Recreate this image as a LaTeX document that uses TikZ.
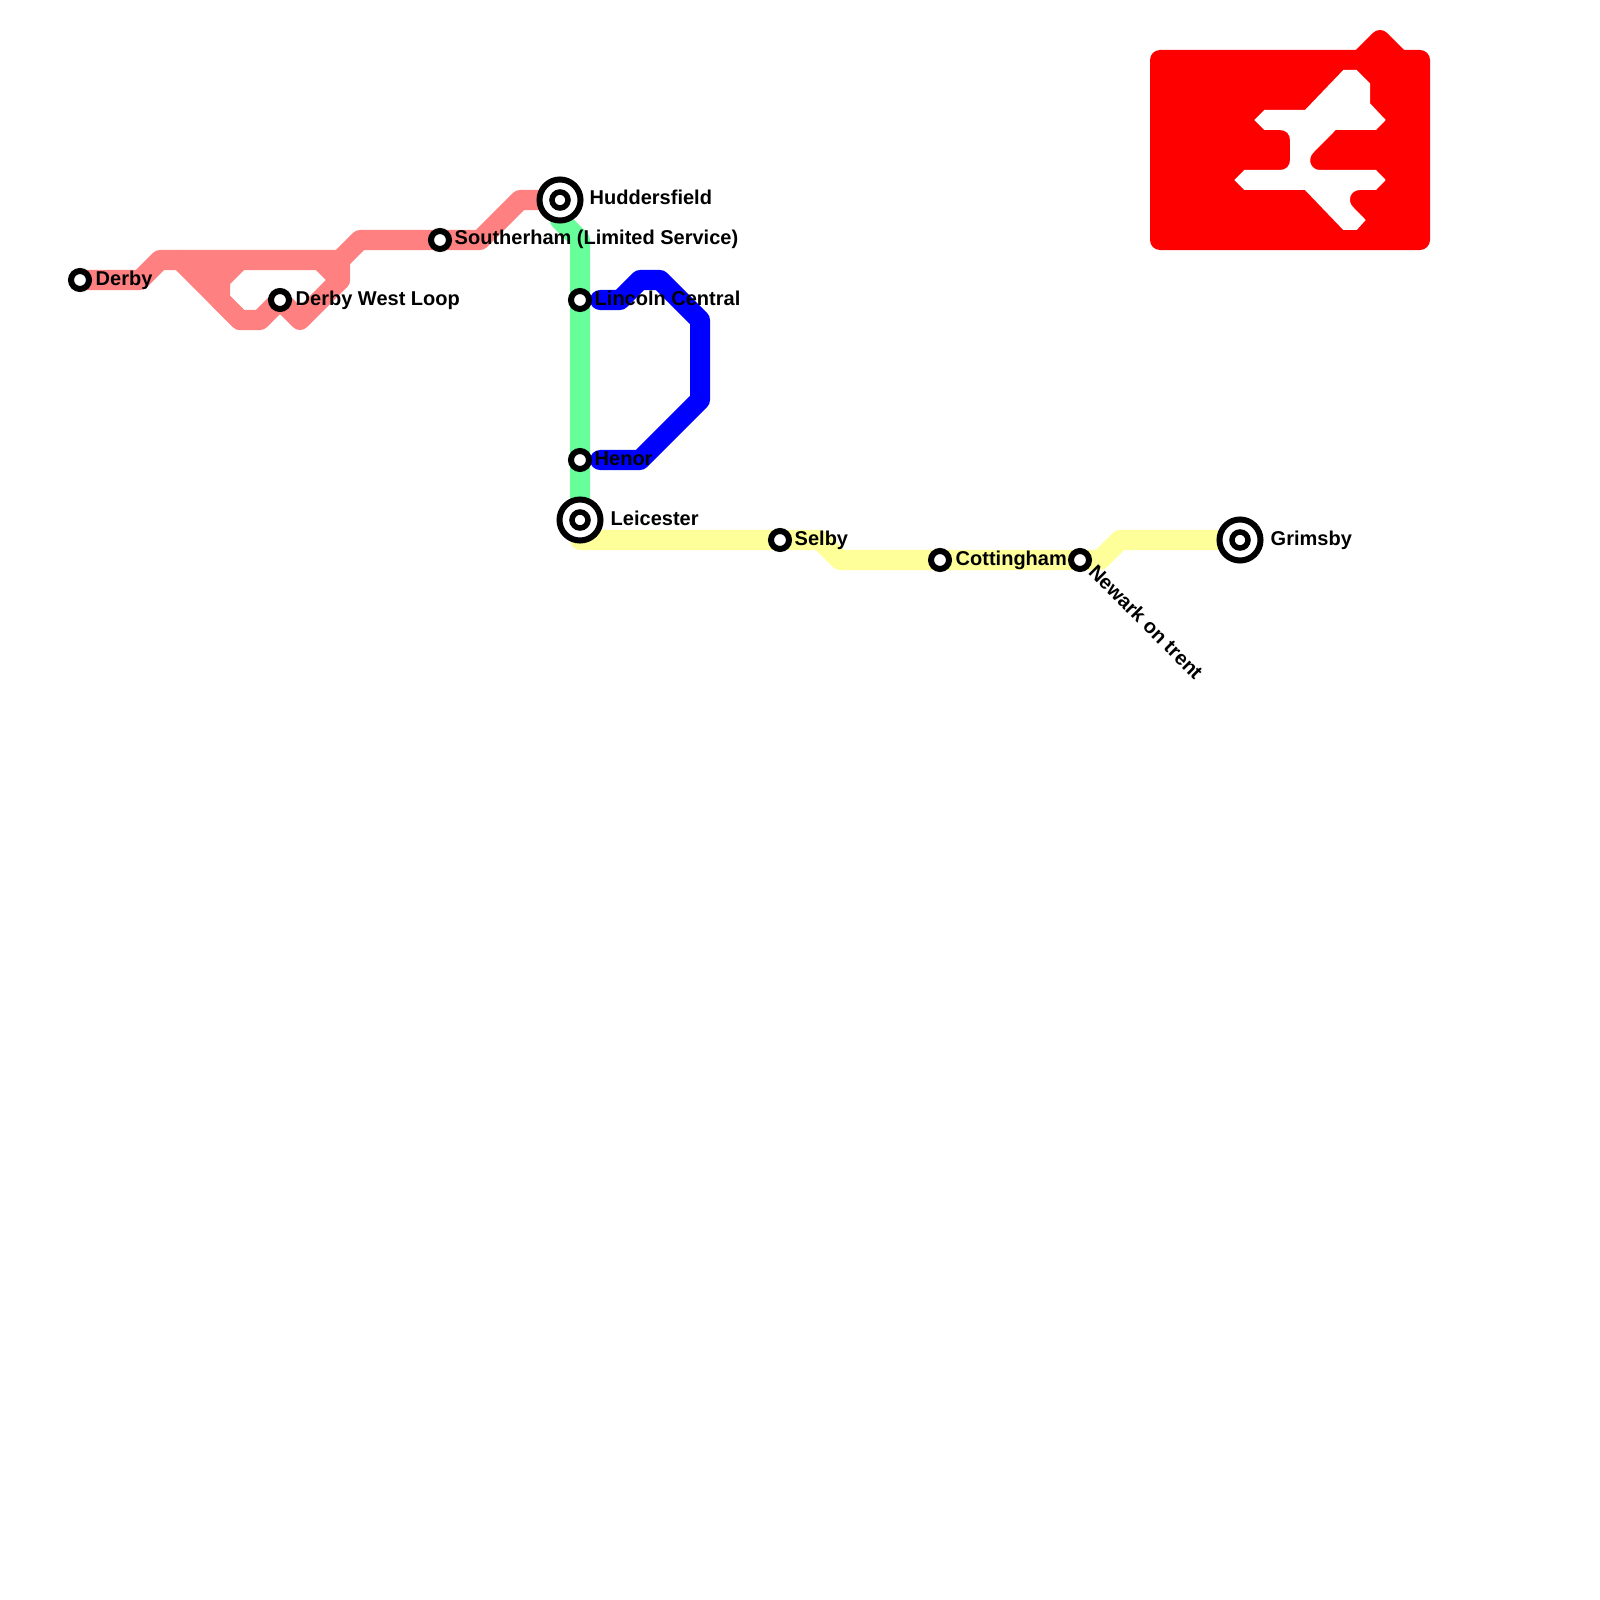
\documentclass[tikz,border=0pt]{standalone}
\usepackage{fontspec}
\setmainfont{Liberation Sans}
\usepackage{tikz}
\usetikzlibrary{backgrounds}
\definecolor{derbypink}{HTML}{FF8080}
\definecolor{limegreen}{HTML}{66FF99}
\definecolor{palelemon}{HTML}{FFFF99}
\begin{document}
\begin{tikzpicture}[
  x=0.01cm,y=-0.01cm,
  stop/.style={draw,circle,fill=white,line width=0.06cm,minimum size=0.18cm,inner sep=0pt},
  hub/.style={draw,circle,fill=white,line width=0.06cm,minimum size=0.41cm,inner sep=0pt},
  hubeye/.style={draw,circle,fill=white,line width=0.055cm,minimum size=0.16cm,inner sep=0pt},
  stoplabel/.style={anchor=base west,inner sep=0pt,font=\bfseries\fontsize{5.69}{7}\selectfont},
  route/.style={line width=0.2cm,line join=round,line cap=round}
]
\useasboundingbox (0,0) rectangle (1600,1600);
\node[stop] (derby) at (80,280) {};
\node[stop] (westloop) at (280,300) {};
\node[stop] (southerham) at (440,240) {};
\node[hub] (huddersfield) at (560,200) {};
\node[hubeye] (huddersfieldeye) at (560,200) {};
\node[stop] (lincoln) at (580,300) {};
\node[stop] (henor) at (580,460) {};
\node[hub] (leicester) at (580,520) {};
\node[hubeye] (leicestereye) at (580,520) {};
\node[stop] (selby) at (780,540) {};
\node[stop] (cottingham) at (940,560) {};
\node[stop] (newark) at (1080,560) {};
\node[hub] (grimsby) at (1240,540) {};
\node[hubeye] (grimsbyeye) at (1240,540) {};
\node[stoplabel] (derbyname) at (95,285) {Derby};
\node[stoplabel] (westloopname) at (295,305) {Derby West Loop};
\node[stoplabel] (southerhamname) at (454,245) {Southerham (Limited Service)};
\node[stoplabel] (huddersfieldname) at (589,205) {Huddersfield};
\node[stoplabel] (lincolnname) at (594,305) {Lincoln Central};
\node[stoplabel] (henorname) at (594,465) {Henor};
\node[stoplabel] (leicestername) at (610,525) {Leicester};
\node[stoplabel] (selbyname) at (794,545) {Selby};
\node[stoplabel] (cottinghamname) at (955,565) {Cottingham};
\node[stoplabel,rotate=-45] (newarkname) at (1087,573) {Newark on trent};
\node[stoplabel] (grimsbyname) at (1270,545) {Grimsby};
\coordinate (lincolnstub) at (600,300);
\coordinate (henorstub) at (600,460);
\begin{scope}[on background layer]
\draw[route,derbypink] (derby.center) -- (140,280) -- (160,260) -- (340,260) -- (360,240)
  -- (southerham.center) -- (480,240) -- (520,200) -- (huddersfield.center);
\draw[route,derbypink] (180,260) -- (240,320) -- (260,320) -- (westloop.center)
  -- (300,320) -- (340,280) -- (340,260);
\draw[route,derbypink] (240,260) -- (220,280) -- (220,300) -- (240,320);
\draw[route,derbypink] (200,260) -- (220,280);
\draw[route,derbypink] (320,260) -- (340,280);
\draw[route,limegreen] (560,220) -- (580,240) -- (lincoln.center) -- (henor.center) -- (leicester.center);
\draw[route,blue] (lincolnstub) -- (620,300) -- (640,280) -- (660,280) -- (700,320)
  -- (700,400) -- (640,460) -- (henorstub);
\draw[route,palelemon] (leicester.center) -- (580,540) -- (selby.center) -- (820,540) -- (840,560)
  -- (cottingham.center) -- (newark.center) -- (1100,560) -- (1120,540) -- (grimsby.center);
\fill[red,rounded corners=0.1cm] (1150,50) rectangle (1430,250);
\draw[route,red] (1360,60) -- (1380,40) -- (1400,60);
\fill[white] (1343.3,70) -- (1356.7,70) -- (1370,83.3) -- (1370,103.3) -- (1385.7,120)
  -- (1376,130) -- (1335.7,130) -- (1313,153) .. controls (1307,160) and (1311,170) .. (1320,170)
  -- (1376,170) -- (1385.7,180) -- (1376,190) -- (1360,190)
  .. controls (1350,190) and (1347,201) .. (1353,207)
  -- (1365.7,220) -- (1356.7,230) -- (1343.3,230) -- (1305,190) -- (1244.3,190)
  -- (1234.3,180) -- (1244.3,170) -- (1280,170) .. controls (1286,170) and (1290,166) .. (1290,160)
  -- (1290,140) .. controls (1290,134) and (1286,130) .. (1280,130)
  -- (1264.3,130) -- (1254.3,120) -- (1264.3,110) -- (1305,110) -- cycle;
\end{scope}
\end{tikzpicture}
\end{document}
